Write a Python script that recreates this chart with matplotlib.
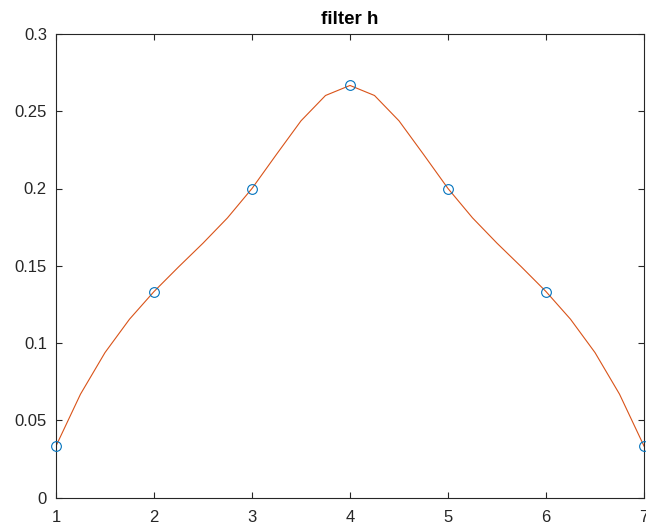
import matplotlib
matplotlib.use('Agg')
import matplotlib.pyplot as plt

# filter taps
n = [1, 2, 3, 4, 5, 6, 7]
h = [0.0333, 0.1333, 0.2000, 0.2667, 0.2000, 0.1333, 0.0333]

# smooth curve (quarter steps)
xs = [1.00, 1.25, 1.50, 1.75, 2.00, 2.25, 2.50, 2.75, 3.00, 3.25, 3.50, 3.75, 4.00,
      4.25, 4.50, 4.75, 5.00, 5.25, 5.50, 5.75, 6.00, 6.25, 6.50, 6.75, 7.00]
ys = [0.0333, 0.0669, 0.0938, 0.1154, 0.1333, 0.1492, 0.1646, 0.1810, 0.2000,
      0.2221, 0.2438, 0.2602, 0.2667, 0.2602, 0.2438, 0.2221, 0.2000, 0.1810,
      0.1646, 0.1492, 0.1333, 0.1154, 0.0938, 0.0669, 0.0333]

xticks = [1, 2, 3, 4, 5, 6, 7]
yticks = [0, 0.05, 0.1, 0.15, 0.2, 0.25, 0.3]
ylabels = ['0', '0.05', '0.1', '0.15', '0.2', '0.25', '0.3']

plt.rcParams['font.family'] = ['Liberation Sans', 'DejaVu Sans']
dark = (0.15, 0.15, 0.15)

fig = plt.figure(figsize=(6.46, 5.30), dpi=100)
ax = fig.add_axes([56 / 646, 32.5 / 530, 588 / 646, 463.5 / 530])

ax.plot(n, h, 'o', color=(0, 0.447, 0.741), markerfacecolor='none',
        markersize=7, markeredgewidth=0.8, clip_on=False, zorder=3)
ax.plot(xs, ys, '-', color=(0.85, 0.325, 0.098), linewidth=0.8, zorder=2)

ax.set_xlim(1, 7)
ax.set_ylim(0, 0.3)
ax.set_xticks(xticks)
ax.set_xticklabels([str(v) for v in xticks])
ax.set_yticks(yticks)
ax.set_yticklabels(ylabels)
ax.tick_params(direction='in', length=4, width=0.8, colors=dark,
               labelsize=12, top=True, right=True)
ax.tick_params(axis='x', pad=9)
ax.tick_params(axis='y', pad=6.5)
for s in ax.spines.values():
    s.set_color(dark)
    s.set_linewidth(0.8)

ax.set_title('filter h', fontsize=13.5, fontweight='bold', color='black', pad=7)

fig.savefig('out.png', dpi=100)
